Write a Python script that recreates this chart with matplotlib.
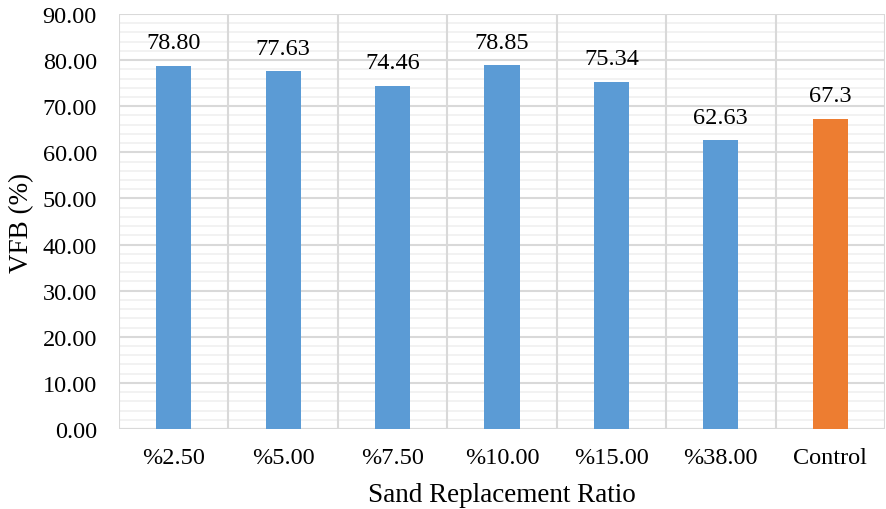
import numpy as np
import matplotlib
matplotlib.use('Agg')
import matplotlib.pyplot as plt
from matplotlib.ticker import MultipleLocator, FormatStrFormatter

plt.rcParams['font.family'] = ['Liberation Serif', 'DejaVu Serif']

ratios = ['%2.50', '%5.00', '%7.50', '%10.00', '%15.00', '%38.00', 'Control']
vfb = [78.80, 77.63, 74.46, 78.85, 75.34, 62.63, 67.3]
value_labels = ['78.80', '77.63', '74.46', '78.85', '75.34', '62.63', '67.3']
bar_colors = ['#5B9BD5'] * 6 + ['#ED7D31']

fig = plt.figure(figsize=(8.86, 5.10), dpi=100)
ax = fig.add_axes([119 / 886, 80 / 510, 766 / 886, 415 / 510])

x = np.arange(len(ratios))

# horizontal grid: light minor every 2, darker major every 10
ax.yaxis.set_major_locator(MultipleLocator(10))
ax.yaxis.set_minor_locator(MultipleLocator(2))
ax.grid(which='major', axis='y', color='#D9D9D9', linewidth=1.5)
ax.grid(which='minor', axis='y', color='#F0F0F0', linewidth=1.2)
ax.set_axisbelow(True)

# category separators drawn on top of the horizontal grid
for b in np.arange(-0.5, len(ratios), 1):
    ax.axvline(b, color='#D9D9D9', linewidth=1.5, zorder=1)
ax.axhline(0, color='#D9D9D9', linewidth=1.5, zorder=1)

ax.bar(x, vfb, width=0.32, color=bar_colors, zorder=3)

for xi, v, lab in zip(x, vfb, value_labels):
    ax.annotate(lab, (xi, v), xytext=(0, 9), textcoords='offset points',
                ha='center', va='bottom', fontsize=17.5)

ax.set_xlim(-0.5, len(ratios) - 0.5)
ax.set_ylim(0, 90)
ax.yaxis.set_major_formatter(FormatStrFormatter('%.2f'))
ax.set_xticks(x)
ax.set_xticklabels(ratios)

ax.tick_params(axis='both', which='both', length=0, labelsize=17.5)
ax.tick_params(axis='x', pad=13)
ax.tick_params(axis='y', pad=16)
for s in ax.spines.values():
    s.set_visible(False)

ax.set_ylabel('VFB (%)', fontsize=19.5, labelpad=6)
ax.set_xlabel('Sand Replacement Ratio', fontsize=19.5, labelpad=10)

fig.savefig('out.png', dpi=100)
